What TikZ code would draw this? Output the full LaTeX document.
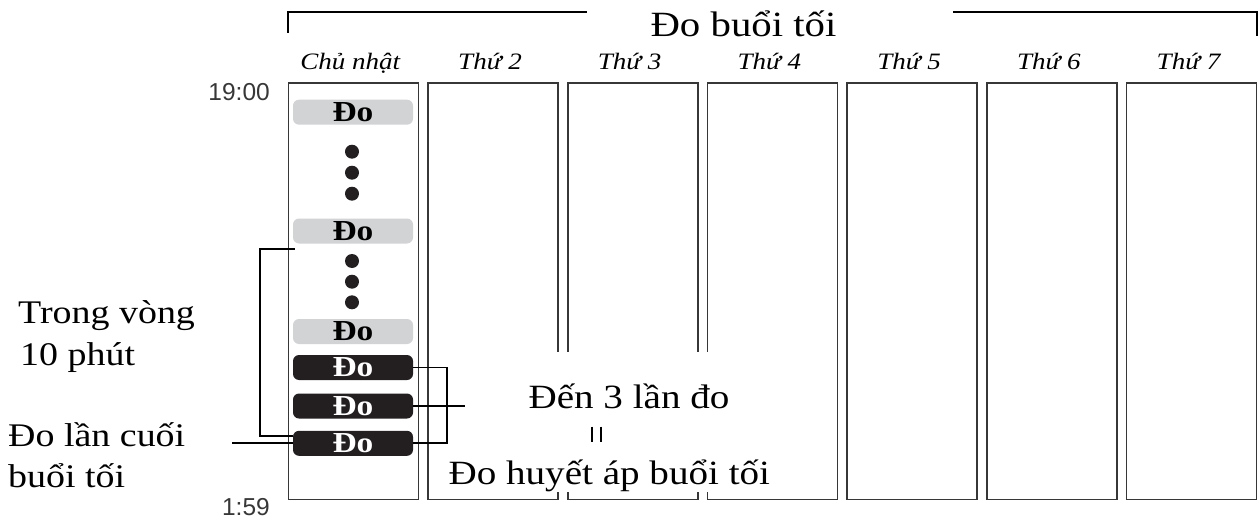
\documentclass[tikz,border=0pt]{standalone}
\usepackage{fontspec}
\newfontfamily\vnserif[FakeStretch=1.15]{Liberation Serif}
\newfontfamily\timefont{Liberation Sans}
\definecolor{pillg}{RGB}{209,211,212}
\definecolor{pillb}{RGB}{35,31,32}
\definecolor{colline}{RGB}{55,55,55}
\definecolor{timecol}{RGB}{55,55,55}
\tikzset{
  colbox/.style={draw=colline, line width=1.6pt, minimum width=130pt, minimum height=416pt, inner sep=0pt},
  daylabel/.style={anchor=base, inner sep=0pt, font=\vnserif\itshape\fontsize{23.5}{23.5}\selectfont},
  pillbase/.style={rounded corners=6pt, minimum width=120pt, minimum height=25pt, inner sep=0pt, font=\vnserif\bfseries\fontsize{29}{29}\selectfont},
  pillgray/.style={pillbase, fill=pillg, text=black},
  pillblack/.style={pillbase, fill=pillb, text=white},
  dotnode/.style={circle, fill=pillb, minimum size=14pt, inner sep=0pt},
  timelabel/.style={anchor=base east, inner sep=0pt, text=timecol, font=\timefont\fontsize{24.5}{24.5}\selectfont},
  bigtext/.style={inner sep=0pt, font=\vnserif\fontsize{33}{33}\selectfont},
  midtext/.style={inner sep=0pt, font=\vnserif\fontsize{34}{34}\selectfont},
  conn/.style={line width=1.9pt, black},
  brk/.style={line width=2.1pt, black},
}
\begin{document}
\begin{tikzpicture}[x=1pt,y=-1pt]
\useasboundingbox (0,0) rectangle (1259,519);
% title
\node[inner sep=0pt, anchor=base, font=\vnserif\fontsize{35.5}{35.5}\selectfont] (title) at (743.5,36.7) {Đo buổi tối};
\coordinate (tl) at (288.3,33);
\coordinate (tr) at (1257,36);
\draw[brk] (tl) |- (586.7,11.7);
\draw[brk] (953,11.7) -| (tr);
% columns and day labels
\foreach \i/\d in {0/Chủ nhật,1/Thứ 2,2/Thứ 3,3/Thứ 4,4/Thứ 5,5/Thứ 6,6/Thứ 7}{
  \node[colbox] (c\i) at ({353.3+139.7*\i},291.3) {};
  \node[daylabel] (d\i) at ({350.3+139.7*\i},70) {\d};
}
% white area behind the central text
\fill[white] (470,352) rectangle (800,491.7);
% time labels
\node[timelabel] (t1) at (270,100) {19:00};
\node[timelabel] (t2) at (270,515) {1:59};
% pills
\node[pillgray] (p1) at (353,112.2) {Đo};
\node[pillgray] (p2) at (353,231) {Đo};
\node[pillgray] (p3) at (353,331.5) {Đo};
\node[pillblack] (b1) at (353,367.5) {Đo};
\node[pillblack] (b2) at (353,406) {Đo};
\node[pillblack] (b3) at (353,443.3) {Đo};
% dots
\foreach \y/\n in {151.7/1,172.7/2,193.7/3,261/4,281.7/5,302.3/6}{
  \node[dotnode] (dot\n) at (352,\y) {};
}
% left bracket
\coordinate (lbtop) at (295,249.3);
\coordinate (lbx) at (260,0);
\draw[conn] ([yshift=7.3pt]b3.west) -| (lbx |- lbtop) -- (lbtop);
% last measurement line
\coordinate (lc) at (231.7,0);
\draw[conn] (b3.west) -- (b3.west -| lc);
% right bracket
\coordinate (rbx) at (446.7,0);
\coordinate (midend) at (465,0);
\draw[conn] (b1.east) -| (rbx |- b3.east) -- (b3.east);
\draw[conn] (b2.east) -- (b2.east -| midend);
% left texts
\node[bigtext, anchor=base west] (tv1) at (18,323.3) {Trong vòng};
\node[bigtext, anchor=base west] (tv2) at (20,365) {10 phút};
\node[bigtext, anchor=base west] (lc1) at (8,446.7) {Đo lần cuối};
\node[bigtext, anchor=base west] (lc2) at (8,487.3) {buổi tối};
% central texts
\node[midtext, anchor=base] (den) at (629,408.3) {Đến 3 lần đo};
\node[midtext, anchor=base] (huyet) at (609.3,484) {Đo huyết áp buổi tối};
\draw[line width=1.5pt] (592,426.7) -- (592,441.7);
\draw[line width=1.5pt] (601,426.7) -- (601,441.7);
\end{tikzpicture}
\end{document}
